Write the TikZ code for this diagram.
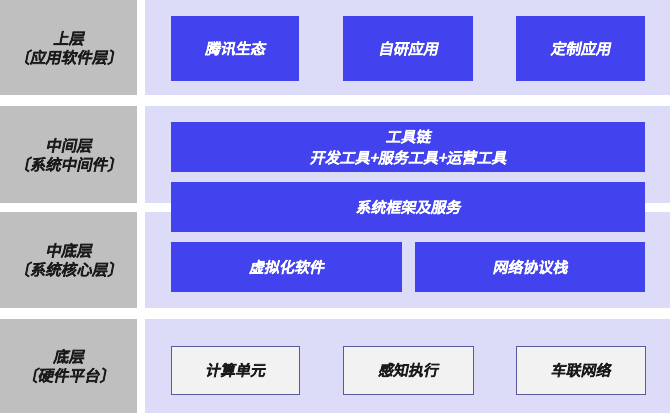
\documentclass[tikz,border=0pt]{standalone}
\usepackage{fontspec}
\newfontfamily\cjk[FakeSlant=0.2,FakeBold=5]{Noto Sans CJK SC}
\definecolor{lgray}{HTML}{BFBFBF}
\definecolor{lav}{HTML}{DCDCF8}
\definecolor{bblue}{HTML}{4242EE}
\definecolor{wfill}{HTML}{F2F2F2}
\definecolor{wline}{HTML}{5A5A9A}
\definecolor{dtext}{HTML}{1A1A1A}
\tikzset{
  graybox/.style={fill=lgray,draw=none},
  lavbox/.style={fill=lav,draw=none},
  bluebox/.style={fill=bblue,draw=none},
  whitebox/.style={fill=wfill,draw=wline,line width=0.9pt},
  lbl/.style={font=\cjk\fontsize{15.5}{19}\selectfont,text=dtext,align=center},
  wlbl/.style={font=\cjk\fontsize{15}{21}\selectfont,text=white,align=center},
  blbl/.style={font=\cjk\fontsize{15}{18}\selectfont,text=dtext,align=center},
}
\begin{document}
\begin{tikzpicture}[x=1pt,y=-1pt]
\useasboundingbox (0,0) rectangle (670,413);
\fill[white] (0,0) rectangle (670,413);
% gray column
\fill[graybox] (0,0) rectangle (137,95);
\fill[graybox] (0,106) rectangle (137,203);
\fill[graybox] (0,212) rectangle (137,308);
\fill[graybox] (0,319) rectangle (137,413);
% lavender panels
\fill[lavbox] (145,0) rectangle (670,95);
\fill[lavbox] (145,106) rectangle (670,203);
\fill[lavbox] (145,212) rectangle (670,308);
\fill[lavbox] (145,319) rectangle (670,413);
% left labels
\node[lbl] (l1) at (68.5,48) {上层\\〔应用软件层〕};
\node[lbl] (l2) at (68.5,155) {中间层\\〔系统中间件〕};
\node[lbl] (l3) at (68.5,260) {中底层\\〔系统核心层〕};
\node[lbl] (l4) at (68.5,366) {底层\\〔硬件平台〕};
% row 1
\fill[bluebox] (171,16) rectangle (299,81);
\node[wlbl] (a1) at (235,48.5) {腾讯生态};
\fill[bluebox] (343,16) rectangle (473,81);
\node[wlbl] (a2) at (408,48.5) {自研应用};
\fill[bluebox] (516,16) rectangle (645,81);
\node[wlbl] (a3) at (580.5,48.5) {定制应用};
% row 2
\fill[bluebox] (171,122) rectangle (645,172);
\node[wlbl] (b1) at (408,147) {工具链\\开发工具+服务工具+运营工具};
\fill[bluebox] (171,182) rectangle (645,232);
\node[wlbl] (b2) at (408,207) {系统框架及服务};
% row 3
\fill[bluebox] (171,242) rectangle (402,292);
\node[wlbl] (c1) at (286.5,267) {虚拟化软件};
\fill[bluebox] (415,242) rectangle (645,292);
\node[wlbl] (c2) at (530,267) {网络协议栈};
% row 4
\draw[whitebox] (171,346) rectangle (299,394);
\node[blbl] (d1) at (235,370) {计算单元};
\draw[whitebox] (343,346) rectangle (473,394);
\node[blbl] (d2) at (408,370) {感知执行};
\draw[whitebox] (516,346) rectangle (645,394);
\node[blbl] (d3) at (580.5,370) {车联网络};
\end{tikzpicture}
\end{document}
